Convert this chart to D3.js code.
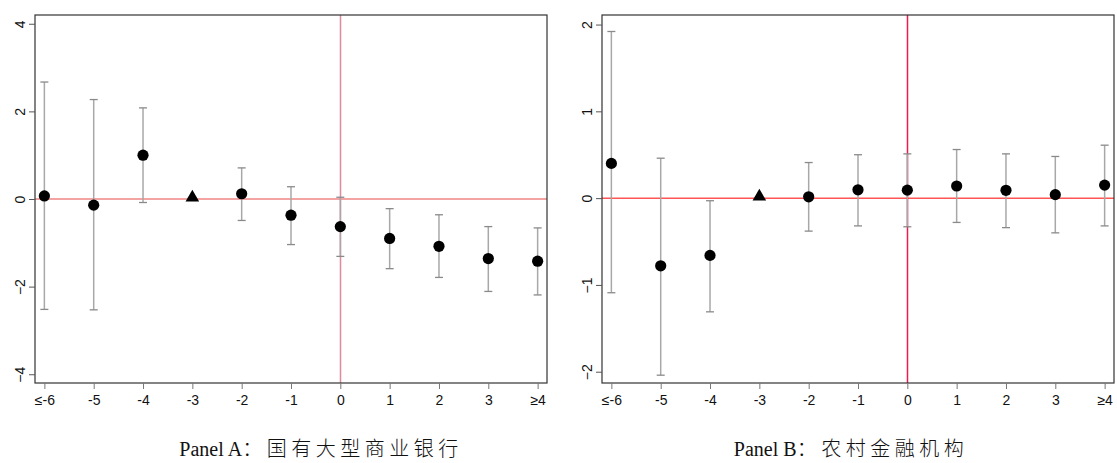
<!DOCTYPE html>
<html><head><meta charset="utf-8">
<script src="https://cdn.jsdelivr.net/npm/d3@7"></script>
<style>body{margin:0;background:#fff}svg{display:block}</style>
</head><body>
<svg id="chart" width="1117" height="463"></svg>
<script>
const categories = ["≤-6","-5","-4","-3","-2","-1","0","1","2","3","≥4"];
const refCategory = "-3";
const eventCategory = "0";

const coefA  = [0.07,-0.14,1.00,0,0.12,-0.37,-0.63,-0.90,-1.08,-1.36,-1.42];
const upperA = [2.67, 2.27,2.08,null,0.71,0.28,0.04,-0.22,-0.36,-0.63,-0.66];
const lowerA = [-2.52,-2.53,-0.08,null,-0.49,-1.04,-1.31,-1.59,-1.79,-2.11,-2.19];
const yTicksA = [-4,-2,0,2,4];
const titleA = "Panel A：国有大型商业银行";

const coefB  = [0.40,-0.78,-0.66,0,0.015,0.096,0.092,0.14,0.09,0.04,0.15];
const upperB = [1.92,0.46,-0.03,null,0.41,0.50,0.51,0.56,0.51,0.48,0.61];
const lowerB = [-1.09,-2.04,-1.31,null,-0.38,-0.32,-0.33,-0.28,-0.34,-0.40,-0.32];
const yTicksB = [-2,-1,0,1,2];
const titleB = "Panel B：农村金融机构";

const svg = d3.select("#chart");

function panel(cfg){
  const g = svg.append("g");
  const x = d3.scalePoint().domain(categories).range([cfg.left, cfg.right]).padding(0.19);
  const y = d3.scaleLinear().domain(cfg.domain).range([cfg.bottom, cfg.top]);
  const data = categories.map((c,i)=>({c, v:cfg.coef[i], hi:cfg.upper[i], lo:cfg.lower[i]}));

  g.append("line").attr("x1",cfg.left).attr("x2",cfg.right).attr("y1",y(0)).attr("y2",y(0))
    .attr("stroke",cfg.hColor).attr("stroke-width",1.5);
  const ex = Math.round(x(eventCategory)) + 0.5;
  g.append("line").attr("x1",ex).attr("x2",ex).attr("y1",cfg.top).attr("y2",cfg.bottom)
    .attr("stroke",cfg.vColor).attr("stroke-width",1.5);

  const ci = data.filter(d=>d.hi!==null);
  g.selectAll(".ci").data(ci).enter().append("line")
    .attr("x1",d=>x(d.c)).attr("x2",d=>x(d.c)).attr("y1",d=>y(d.hi)).attr("y2",d=>y(d.lo))
    .attr("stroke","#a8a8a8").attr("stroke-width",1.5);
  ["hi","lo"].forEach(k=>{
    g.selectAll(".cap"+k).data(ci).enter().append("line")
      .attr("x1",d=>x(d.c)-4).attr("x2",d=>x(d.c)+4).attr("y1",d=>y(d[k])).attr("y2",d=>y(d[k]))
      .attr("stroke","#8a8a8a").attr("stroke-width",1.3);
  });

  g.selectAll(".pt").data(data.filter(d=>d.c!==refCategory)).enter().append("circle")
    .attr("cx",d=>x(d.c)).attr("cy",d=>y(d.v)).attr("r",5.6).attr("fill","#000");
  const r = data.find(d=>d.c===refCategory);
  g.append("path").attr("d",d3.symbol(d3.symbolTriangle, 80)())
    .attr("transform",`translate(${x(r.c)},${y(r.v)-1.5})`).attr("fill","#000");

  g.append("rect").attr("x",cfg.left).attr("y",cfg.top).attr("width",cfg.right-cfg.left).attr("height",cfg.bottom-cfg.top)
    .attr("fill","none").attr("stroke","#333").attr("stroke-width",1.2);

  const xa = g.append("g").attr("transform",`translate(0,${cfg.bottom})`)
    .call(d3.axisBottom(x).tickSize(6).tickSizeOuter(0).tickPadding(6));
  xa.select(".domain").remove();
  xa.selectAll(".tick line").attr("stroke","#777");
  xa.selectAll("text").attr("font-family","'Liberation Sans',Arial,sans-serif").attr("font-size",14).attr("fill","#111");

  const ya = g.append("g").attr("transform",`translate(${cfg.left},0)`)
    .call(d3.axisLeft(y).tickValues(cfg.yTicks).tickSize(6).tickSizeOuter(0).tickFormat(d3.format("d")));
  ya.select(".domain").remove();
  ya.selectAll(".tick line").attr("stroke","#555");
  ya.selectAll("text").attr("font-family","'Liberation Sans',Arial,sans-serif").attr("font-size",14).attr("fill","#111")
    .attr("x",null).attr("dy",null).attr("text-anchor","middle")
    .attr("transform","translate(-15,0) rotate(-90)").attr("dy","0.35em");

  const t = svg.append("text").attr("x",cfg.titleX).attr("y",456).attr("text-anchor","middle")
    .attr("font-family","'Liberation Serif','Times New Roman',serif").attr("font-size",20).attr("fill","#111");
  const parts = cfg.title.split("：");
  t.append("tspan").text(parts[0]);
  t.append("tspan").attr("font-family","'Noto Sans CJK SC',sans-serif").attr("font-size",20).attr("letter-spacing",4.5).attr("font-weight",300).text("：" + parts[1]);
}

panel({left:35,right:547,top:15,bottom:383,domain:[-4.2,4.2],coef:coefA,upper:upperA,lower:lowerA,yTicks:yTicksA,
  hColor:"#f08585",vColor:"#e0899f",title:titleA,titleX:321});
panel({left:602,right:1114,top:15,bottom:383,domain:[-2.13,2.11],coef:coefB,upper:upperB,lower:lowerB,yTicks:yTicksB,
  hColor:"#ff5555",vColor:"#f0184c",title:titleB,titleX:851});
</script>
</body></html>
